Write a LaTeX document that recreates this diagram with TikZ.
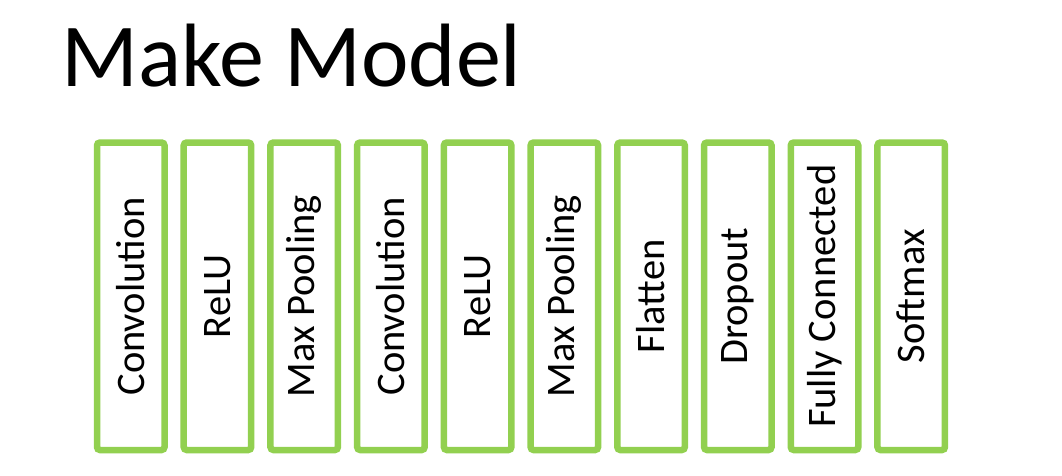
\documentclass[tikz,border=0pt]{standalone}
\usepackage{fontspec}
\setmainfont{Carlito}
\definecolor{boxgreen}{HTML}{92D050}
\begin{document}
\begin{tikzpicture}[x=1pt,y=-1pt,
  layerbox/.style={draw=boxgreen, line width=6.5pt, rounded corners=3pt,
    minimum width=67.5pt, minimum height=307.5pt, inner sep=0pt, fill=white},
  layertext/.style={rotate=90, font=\fontsize{40.5}{48}\selectfont, inner sep=0pt},
  titletext/.style={font=\fontsize{90}{108}\selectfont, inner sep=0pt, anchor=base west}]
\useasboundingbox (0,0) rectangle (1062,476);
\fill[white] (0,0) rectangle (1062,476);
\node[titletext] (title) at (61,87) {Make Model};
\foreach \i/\t in {0/Convolution,1/ReLU,2/Max Pooling,3/Convolution,4/ReLU,5/Max Pooling,6/Flatten,7/Dropout,8/Fully Connected,9/Softmax}{
  \node[layerbox] (b\i) at ({130.75+\i*86.72},296.25) {};
  \node[layertext] (t\i) at (b\i.center) {\t};
}
\end{tikzpicture}
\end{document}
